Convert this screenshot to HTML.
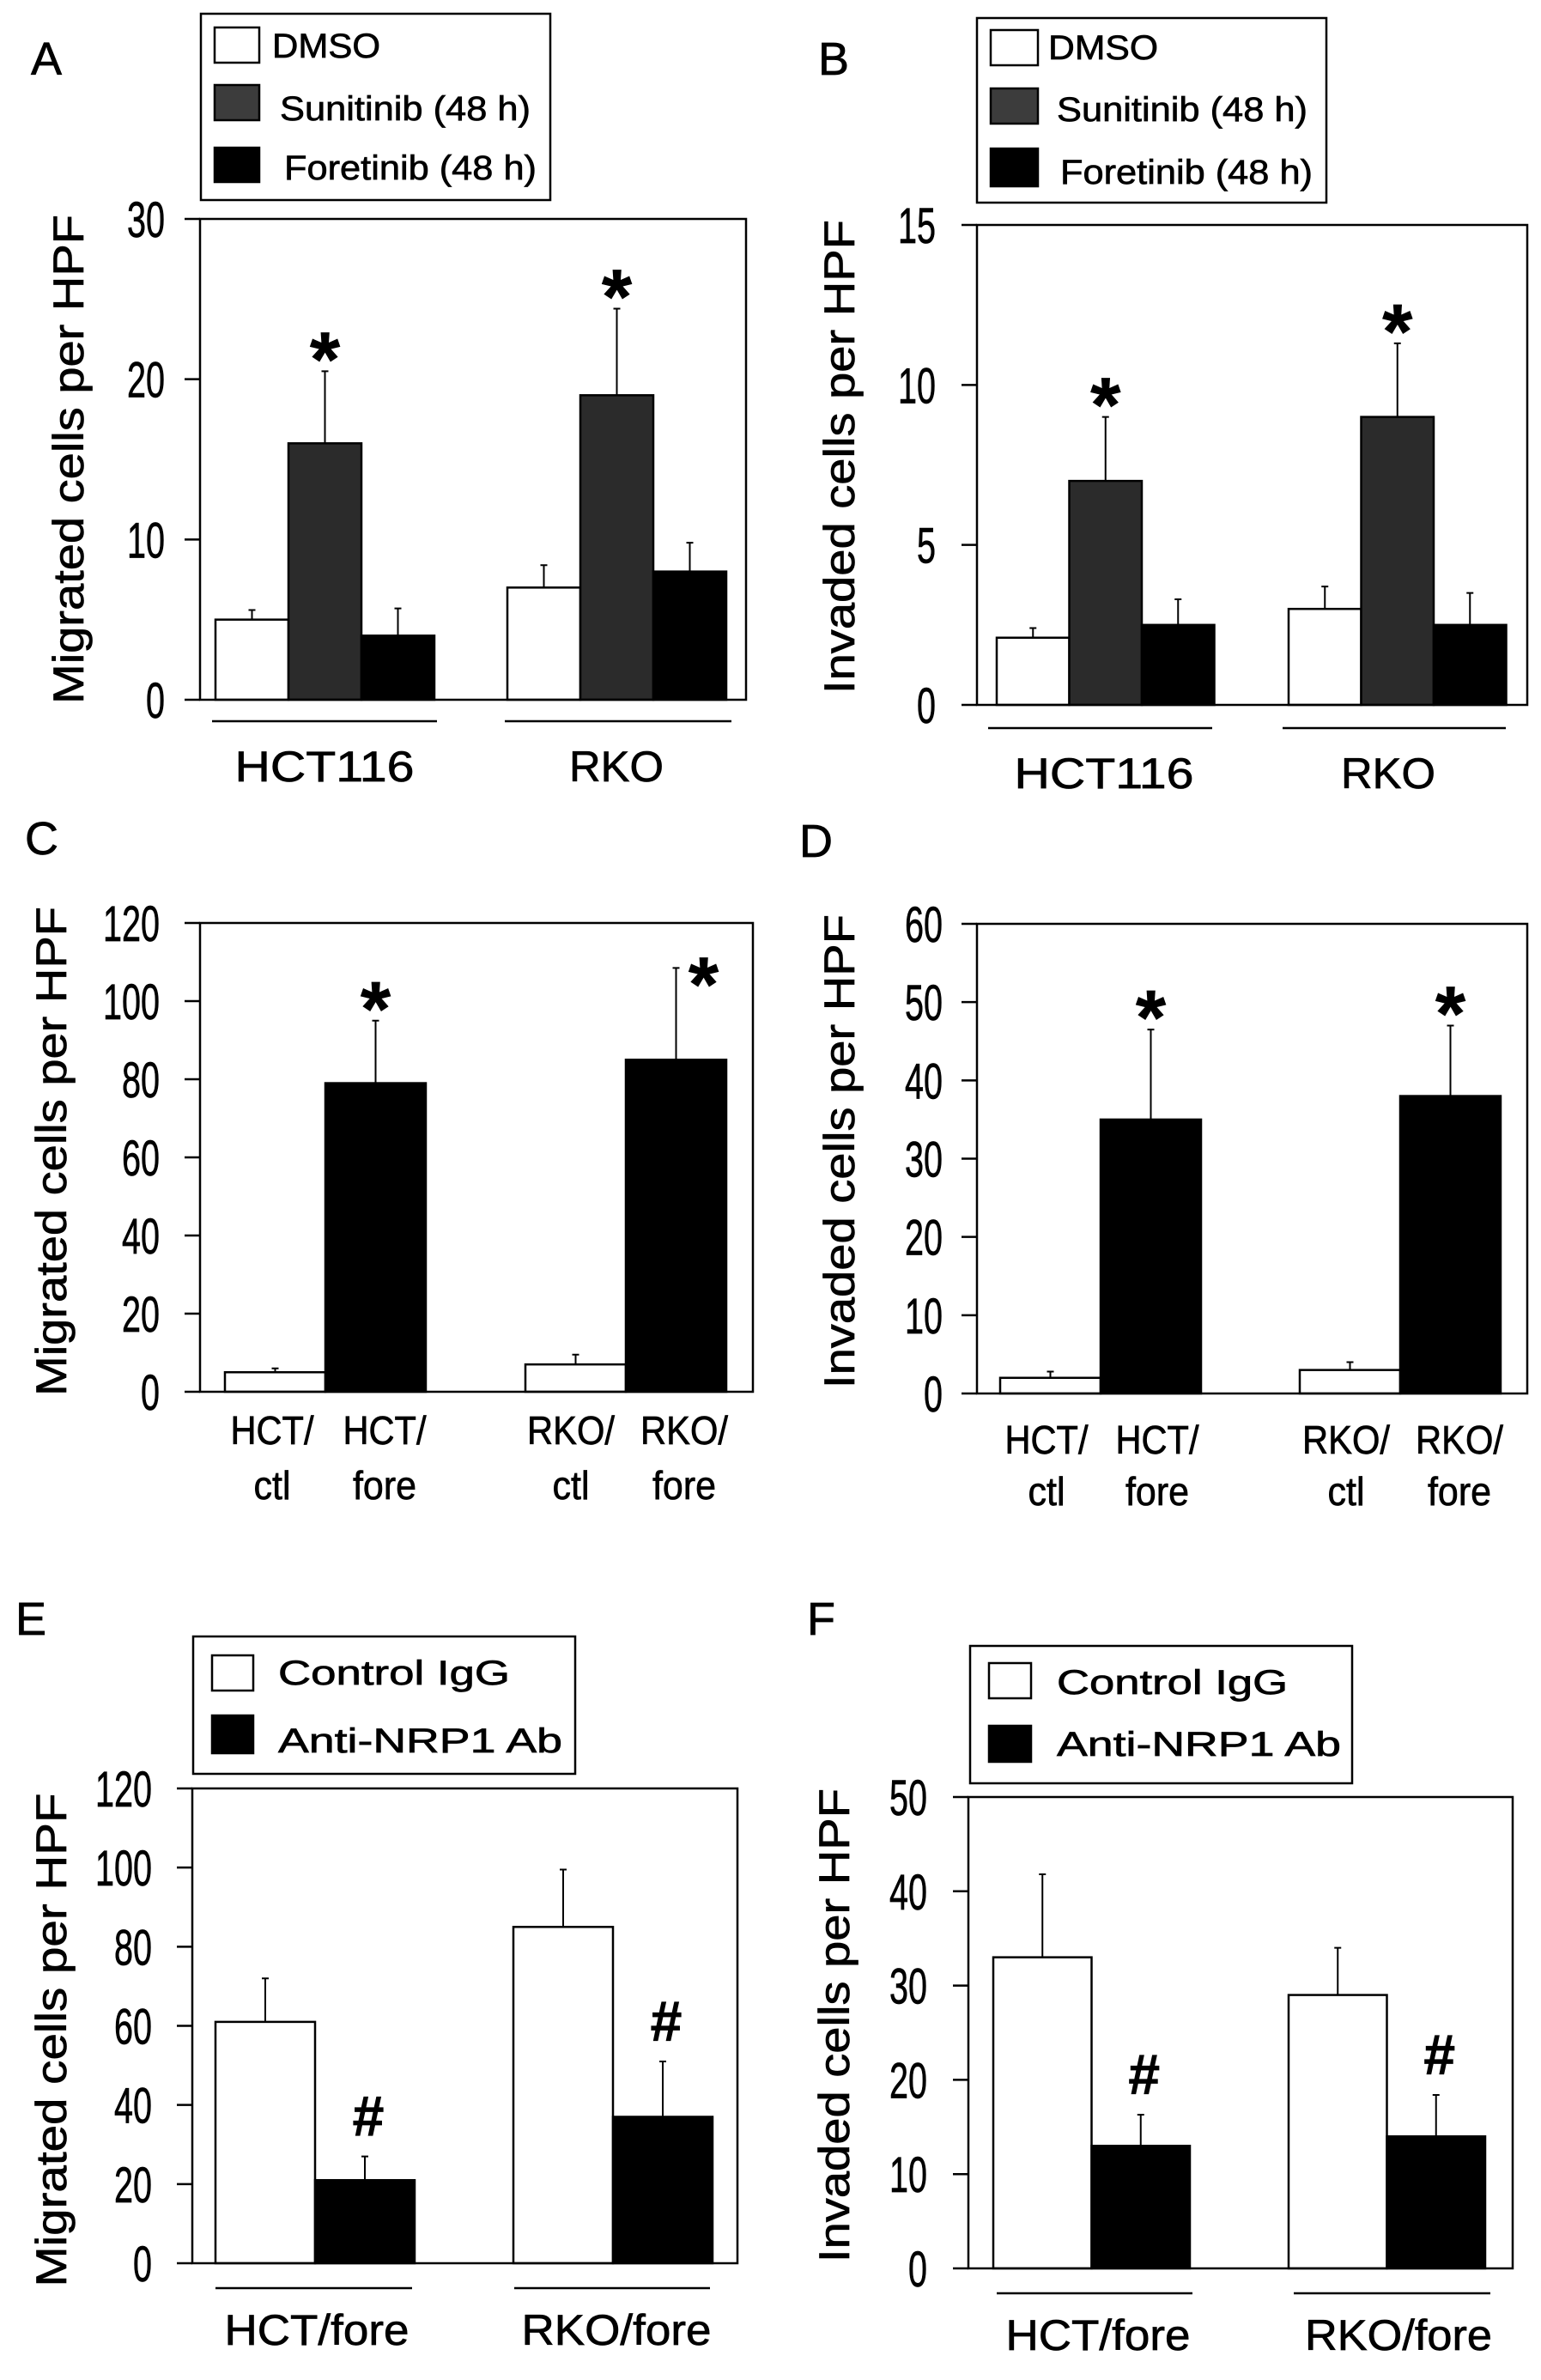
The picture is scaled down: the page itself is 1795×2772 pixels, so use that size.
<!DOCTYPE html>
<html><head><meta charset="utf-8"><style>
html,body{margin:0;padding:0;background:#fff}
svg{display:block}
text{font-family:"Liberation Sans",sans-serif;fill:#000;stroke:#000;stroke-width:0.7px}
</style></head><body>
<svg id="fig" width="1795" height="2772" viewBox="0 0 1795 2772" xmlns="http://www.w3.org/2000/svg"></svg>
<script>
// ---- data ----
const aCategories = ['HCT116', 'RKO'];
const aDmso = [5, 7];        const aDmsoErr = [0.6, 1.4];
const aSun = [16, 19];       const aSunErr = [4.5, 5.4];
const aFore = [4, 8];        const aForeErr = [1.7, 1.8];
const aTicks = [0, 10, 20, 30];

const bCategories = ['HCT116', 'RKO'];
const bDmso = [2.1, 3];      const bDmsoErr = [0.3, 0.7];
const bSun = [7, 9];         const bSunErr = [2, 2.3];
const bFore = [2.5, 2.5];    const bForeErr = [0.8, 1.0];
const bTicks = [0, 5, 10, 15];

const cLabels = [['HCT/', 'ctl'], ['HCT/', 'fore'], ['RKO/', 'ctl'], ['RKO/', 'fore']];
const cCtl = [5, 7];         const cCtlErr = [1, 2.5];
const cFore = [79, 85];      const cForeErr = [16, 23.5];
const cTicks = [0, 20, 40, 60, 80, 100, 120];

const dLabels = [['HCT/', 'ctl'], ['HCT/', 'fore'], ['RKO/', 'ctl'], ['RKO/', 'fore']];
const dCtl = [2, 3];         const dCtlErr = [0.8, 1];
const dFore = [35, 38];      const dForeErr = [11.5, 9];
const dTicks = [0, 10, 20, 30, 40, 50, 60];

const eCategories = ['HCT/fore', 'RKO/fore'];
const eIgg = [61, 85];       const eIggErr = [11, 14.5];
const eAnti = [21, 37];      const eAntiErr = [6, 14];
const eTicks = [0, 20, 40, 60, 80, 100, 120];

const fCategories = ['HCT/fore', 'RKO/fore'];
const fIgg = [33, 29];       const fIggErr = [8.8, 5];
const fAnti = [13, 14];      const fAntiErr = [3.3, 4.4];
const fTicks = [0, 10, 20, 30, 40, 50];

// ---- drawing ----
const NS = 'http://www.w3.org/2000/svg';
const svg = document.getElementById('fig');
function mk(tag, attrs, parent, txt) {
  const e = document.createElementNS(NS, tag);
  for (const k in attrs) e.setAttribute(k, attrs[k]);
  if (txt !== undefined) e.textContent = txt;
  (parent || svg).appendChild(e);
  return e;
}

function panel(p) {
  const g = mk('g', {});
  
  
  const yS = v => p.bottom - v / p.max * (p.bottom - p.top);
  const L = mk('text', {x: p.letter[0], y: p.letter[1], 'font-size': 54}, g, p.id.toUpperCase());
  
  
  const T = mk('text', {x: 0, y: 0, 'font-size': 50, 'text-anchor': 'middle', textLength: p.titleLen, lengthAdjust: 'spacingAndGlyphs',
    transform: `translate(${p.titleX},${p.titleY}) rotate(-90)`, 'dominant-baseline': 'middle'}, g, p.title);
  
  
  p.series.forEach((s, si) => {
    s.vals.forEach((v, gi) => {
      const x = p.groups[gi] + si * p.bw;
      const y = yS(v);
      const r = mk('rect', {x: x, y: y, width: p.bw, height: p.bottom - y, fill: s.fill, stroke: '#000', 'stroke-width': 2.5}, g);
      
      
      const et = yS(v + s.err[gi]);
      const cx = x + p.bw / 2;
      const el = mk('path', {d: `M${cx},${y} V${et} M${cx - 4},${et} H${cx + 4}`, stroke: '#000', 'stroke-width': 2, fill: 'none'}, g);
      
      
      if (s.mark) {
        const off = (p.markOff && p.markOff[gi]) || [0, 0];
        let m;
        if (s.mark === '*') {
          m = mk('text', {x: cx + off[0], y: et + 17 + off[1], 'font-size': 90, 'font-weight': 'bold', 'text-anchor': 'middle'}, g, '*');
        } else {
          m = mk('text', {x: cx + 4, y: et - 24, 'font-size': 66, 'font-weight': 'bold', 'text-anchor': 'middle'}, g, '#');
        }
        
        
      }
    });
  });
  const f = mk('rect', {x: p.left, y: p.top, width: p.right - p.left, height: p.bottom - p.top, fill: 'none', stroke: '#000', 'stroke-width': 2.5}, g);
  
  
  p.ticks.forEach(t => {
    const y = yS(t);
    const tl = mk('line', {x1: p.left - 18, x2: p.left, y1: y, y2: y, stroke: '#000', 'stroke-width': 2.5}, g);
    
    
    const s = String(t);
    const tt = mk('text', {x: p.tickRight, y: y + 21, 'font-size': 58, 'stroke-width': 1.2, 'text-anchor': 'end', textLength: 22 * s.length, lengthAdjust: 'spacingAndGlyphs'}, g, s);
    
    
  });
  if (p.cats) {
    p.cats.forEach((c, i) => {
      const u = p.under[i];
      const ul = mk('line', {x1: u[0], x2: u[1], y1: p.underY, y2: p.underY, stroke: '#000', 'stroke-width': 2.5}, g);
      
      
      const ct = mk('text', {x: p.catX[i], y: p.catY, 'font-size': 50, 'text-anchor': 'middle', textLength: p.catLen[i], lengthAdjust: 'spacingAndGlyphs'}, g, c);
      
      
    });
  }
  if (p.lines2) {
    p.lines2.forEach((c, i) => {
      c.forEach((ln, li) => {
        const len = ln.length === 4 ? (ln[0] === 'R' ? 102 : (ln === 'fore' ? 74 : 97)) : 43;
        const ct = mk('text', {x: p.catX[i], y: p.catY[li], 'font-size': 46, 'text-anchor': 'middle', textLength: len, lengthAdjust: 'spacingAndGlyphs'}, g, ln);
        
        
      });
    });
  }
  if (p.legend) {
    const lg = p.legend;
    const lr = mk('rect', {x: lg.box[0], y: lg.box[1], width: lg.box[2] - lg.box[0], height: lg.box[3] - lg.box[1], fill: '#fff', stroke: '#000', 'stroke-width': 2.5}, g);
    
    
    lg.items.forEach(it => {
      const sw = mk('rect', {x: lg.swX[0], y: it.sy[0], width: lg.swX[1] - lg.swX[0], height: it.sy[1] - it.sy[0], fill: it.fill, stroke: '#000', 'stroke-width': 2.5}, g);
      
      
      const lt = mk('text', {x: it.tx, y: it.ty, 'font-size': 40, textLength: it.len, lengthAdjust: 'spacingAndGlyphs'}, g, it.label);
      
      
    });
  }
}

const SUN = '#2b2b2b';
panel({id: 'a', letter: [36, 87], title: 'Migrated cells per HPF', titleX: 84, titleY: 535, titleLen: 570,
  left: 233, right: 869, top: 255, bottom: 815, max: 30, ticks: aTicks, tickRight: 192,
  groups: [251, 591], bw: 85,
  series: [{name: 'dmso', vals: aDmso, err: aDmsoErr, fill: '#fff'},
           {name: 'sunitinib', vals: aSun, err: aSunErr, fill: SUN, mark: '*'},
           {name: 'foretinib', vals: aFore, err: aForeErr, fill: '#000'}],
  cats: aCategories, under: [[247, 509], [588, 852]], underY: 840, catX: [378, 718], catY: 910, catLen: [209, 110],
  legend: {box: [234, 16, 641, 233], swX: [250, 302], items: [
    {sy: [32, 73], fill: '#fff', tx: 317, ty: 67, len: 126, label: 'DMSO'},
    {sy: [99, 140], fill: '#3c3c3c', tx: 326, ty: 140, len: 292, label: 'Sunitinib (48 h)'},
    {sy: [172, 212], fill: '#000', tx: 331, ty: 209, len: 294, label: 'Foretinib (48 h)'}]}
});
panel({id: 'b', letter: [953, 87], title: 'Invaded cells per HPF', titleX: 982, titleY: 532, titleLen: 552,
  left: 1138, right: 1779, top: 262, bottom: 821, max: 15, ticks: bTicks, tickRight: 1090,
  groups: [1161, 1501], bw: 84.5,
  series: [{name: 'dmso', vals: bDmso, err: bDmsoErr, fill: '#fff'},
           {name: 'sunitinib', vals: bSun, err: bSunErr, fill: SUN, mark: '*'},
           {name: 'foretinib', vals: bFore, err: bForeErr, fill: '#000'}],
  cats: bCategories, under: [[1151, 1412], [1494, 1754]], underY: 848, catX: [1286, 1617], catY: 918, catLen: [209, 110],
  legend: {box: [1138, 21, 1545, 236], swX: [1154, 1209], items: [
    {sy: [35, 76], fill: '#fff', tx: 1221, ty: 69, len: 128, label: 'DMSO'},
    {sy: [103, 144], fill: '#3c3c3c', tx: 1231, ty: 141, len: 292, label: 'Sunitinib (48 h)'},
    {sy: [173, 217], fill: '#000', tx: 1235, ty: 214, len: 294, label: 'Foretinib (48 h)'}]}
});
panel({id: 'c', letter: [29, 995], title: 'Migrated cells per HPF', titleX: 64, titleY: 1341, titleLen: 570,
  left: 233, right: 877, top: 1075, bottom: 1621, max: 120, ticks: cTicks, tickRight: 186,
  groups: [262, 612], bw: 117, markOff: [[0, 0], [32, 33]],
  series: [{name: 'ctl', vals: cCtl, err: cCtlErr, fill: '#fff'},
           {name: 'fore', vals: cFore, err: cForeErr, fill: '#000', mark: '*'}],
  lines2: cLabels, catX: [317, 448, 665, 797], catY: [1682, 1746]
});
panel({id: 'd', letter: [931, 998], title: 'Invaded cells per HPF', titleX: 982, titleY: 1341, titleLen: 552,
  left: 1138, right: 1779, top: 1076, bottom: 1623, max: 60, ticks: dTicks, tickRight: 1098,
  groups: [1165, 1514], bw: 117,
  series: [{name: 'ctl', vals: dCtl, err: dCtlErr, fill: '#fff'},
           {name: 'fore', vals: dFore, err: dForeErr, fill: '#000', mark: '*'}],
  lines2: dLabels, catX: [1219, 1348, 1568, 1700], catY: [1693, 1753]
});
panel({id: 'e', letter: [18, 1904], title: 'Migrated cells per HPF', titleX: 64, titleY: 2376, titleLen: 575,
  left: 224, right: 859, top: 2083, bottom: 2636, max: 120, ticks: eTicks, tickRight: 177,
  groups: [251, 598], bw: 116,
  series: [{name: 'control-igg', vals: eIgg, err: eIggErr, fill: '#fff'},
           {name: 'anti-nrp1', vals: eAnti, err: eAntiErr, fill: '#000', mark: '#'}],
  cats: eCategories, under: [[251, 480], [599, 827]], underY: 2665, catX: [369, 718], catY: 2731, catLen: [215, 221],
  legend: {box: [225, 1906, 670, 2066], swX: [247, 295], items: [
    {sy: [1928, 1969], fill: '#fff', tx: 324, ty: 1962, len: 270, label: 'Control IgG'},
    {sy: [1998, 2042], fill: '#000', tx: 324, ty: 2041, len: 331, label: 'Anti-NRP1 Ab'}]}
});
panel({id: 'f', letter: [940, 1904], title: 'Invaded cells per HPF', titleX: 976, titleY: 2359, titleLen: 552,
  left: 1128, right: 1762, top: 2093, bottom: 2642, max: 50, ticks: fTicks, tickRight: 1080,
  groups: [1157, 1501], bw: 114.5,
  series: [{name: 'control-igg', vals: fIgg, err: fIggErr, fill: '#fff'},
           {name: 'anti-nrp1', vals: fAnti, err: fAntiErr, fill: '#000', mark: '#'}],
  cats: fCategories, under: [[1161, 1389], [1507, 1736]], underY: 2671, catX: [1279, 1629], catY: 2737, catLen: [215, 218],
  legend: {box: [1130, 1917, 1575, 2077], swX: [1152, 1201], items: [
    {sy: [1937, 1978], fill: '#fff', tx: 1231, ty: 1973, len: 269, label: 'Control IgG'},
    {sy: [2010, 2052], fill: '#000', tx: 1231, ty: 2045, len: 331, label: 'Anti-NRP1 Ab'}]}
});
</script>
</body></html>
